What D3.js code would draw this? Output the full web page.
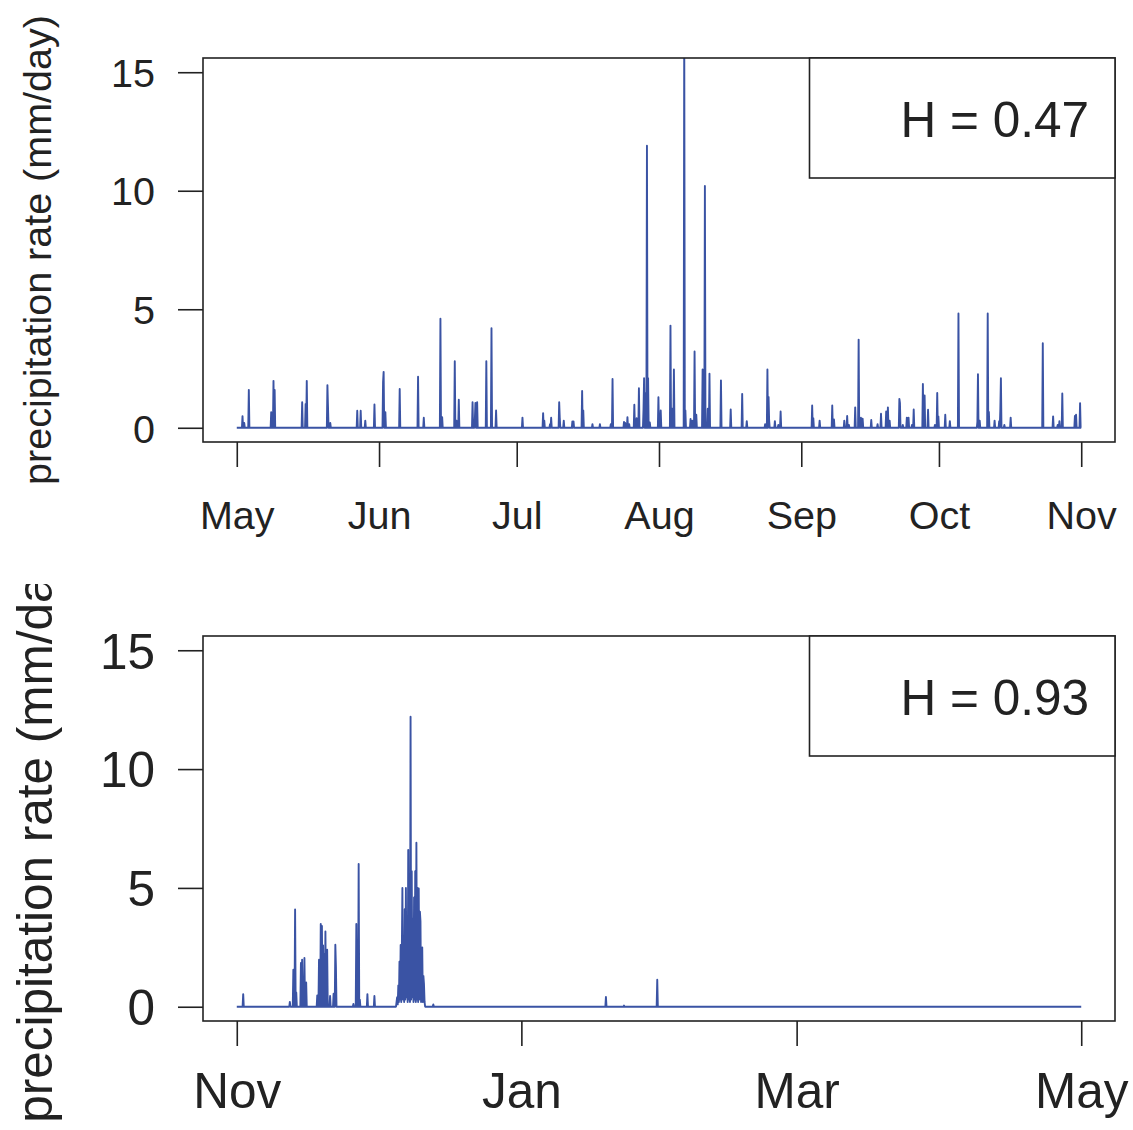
<!DOCTYPE html>
<html>
<head>
<meta charset="utf-8">
<script src="https://cdn.jsdelivr.net/npm/d3@7"></script>
<style>
  html, body { margin: 0; padding: 0; background: #fff; }
  svg { display: block; font-family: "Liberation Sans", Arial, Helvetica, sans-serif; }
</style>
</head>
<body>
<svg id="chart" width="1133" height="1130"></svg>
<script>
// Precipitation rate, 3-hourly steps; spikes given as [day offset, mm/day], all other steps are 0.

// Warm season: 1 May – 1 Nov (184 days)
const summerDays = 184;
const summerMonthDays = [0, 31, 61, 92, 123, 153, 184];
const summerMonthLabels = ["May", "Jun", "Jul", "Aug", "Sep", "Oct", "Nov"];
const summerH = "H = 0.47";
const summerSpikes = [
  [1.24, 0.49], [1.59, 0.2], [2.68, 1.6], [7.56, 0.66], [8.00, 1.98], [8.22, 1.6],
  [14.24, 1.08], [15.04, 1.0], [15.20, 1.98], [19.69, 1.8], [19.84, 0.9], [20.43, 0.2],
  [26.31, 0.72], [26.97, 0.72], [28.06, 0.3], [30.02, 0.98], [31.89, 1.93], [32.05, 2.36],
  [32.33, 0.66], [35.47, 1.64], [39.46, 2.15], [40.70, 0.42], [44.41, 4.6], [44.69, 0.45],
  [47.46, 2.81], [47.90, 0.3], [48.33, 1.18], [51.38, 1.08], [51.82, 0.35], [52.04, 1.05],
  [52.32, 1.08], [54.35, 2.81], [55.44, 4.2], [56.46, 0.73], [62.28, 0.43], [66.71, 0.62],
  [66.99, 0.3], [68.24, 0.15], [68.52, 0.42], [70.20, 1.08], [70.42, 0.42], [71.22, 0.3],
  [73.10, 0.27], [73.41, 0.27], [75.28, 1.55], [75.50, 0.73], [77.55, 0.15], [79.07, 0.15],
  [81.47, 0.15], [81.91, 2.06], [84.43, 0.25], [84.59, 0.2], [85.18, 0.45], [85.52, 0.15],
  [86.61, 0.97], [87.14, 0.4], [87.64, 1.67], [88.58, 0.77], [88.73, 2.09], [89.01, 1.45],
  [89.38, 11.9], [89.60, 2.09], [90.04, 0.22], [91.85, 1.29], [92.37, 0.73], [94.46, 4.31],
  [94.83, 0.8], [95.20, 2.46], [97.51, 17.0], [97.73, 0.73], [98.91, 0.37], [99.19, 0.3],
  [99.78, 3.22], [100.07, 0.55], [101.53, 2.46], [102.03, 10.2], [102.58, 0.8], [103.01, 2.28],
  [105.52, 2.0], [107.63, 0.77], [110.16, 1.43], [111.12, 0.28], [115.17, 0.15], [115.61, 2.46],
  [115.91, 1.3], [116.04, 0.3], [117.29, 0.28], [118.01, 0.12], [118.53, 0.69], [125.35, 0.94],
  [125.64, 0.4], [127.03, 0.3], [129.72, 0.94], [130.15, 0.35], [132.40, 0.3], [132.98, 0.5],
  [133.35, 0.12], [134.79, 0.86], [135.53, 3.72], [136.04, 0.42], [136.41, 0.38], [138.28, 0.33],
  [139.59, 0.15], [140.33, 0.59], [141.55, 0.69], [141.86, 0.86], [142.21, 0.3], [144.32, 1.22],
  [144.54, 1.05], [145.13, 0.12], [146.06, 0.43], [146.43, 0.43], [147.16, 0.12], [147.44, 0.77],
  [149.49, 1.85], [149.84, 1.36], [150.64, 0.76], [152.17, 0.12], [152.67, 1.47], [152.89, 0.48],
  [154.41, 0.55], [155.37, 0.28], [157.25, 4.82], [161.33, 0.25], [161.54, 2.26], [161.83, 0.3],
  [163.57, 4.82], [163.87, 0.67], [165.09, 0.3], [166.12, 0.28], [166.34, 0.77], [166.49, 2.09],
  [167.21, 0.12], [168.58, 0.43], [175.65, 3.57], [177.83, 0.48], [178.92, 0.12], [179.27, 0.28],
  [179.86, 1.45], [182.62, 0.5], [182.91, 0.55], [183.78, 1.04]
];

// Cold season: 1 Nov – 1 May (181 days)
const winterDays = 181;
const winterMonthDays = [0, 61, 120, 181];
const winterMonthLabels = ["Nov", "Jan", "Mar", "May"];
const winterH = "H = 0.93";
const winterSpikes = [
  [1.35, 0.53], [11.37, 0.2], [12.16, 1.56], [12.44, 4.09], [12.80, 0.6], [13.73, 1.84],
  [13.94, 1.98], [14.22, 1.2], [14.52, 2.05], [14.86, 1.02], [17.31, 0.48], [17.65, 1.98],
  [17.95, 3.48], [18.23, 3.4], [18.44, 2.58], [18.72, 2.2], [18.94, 3.17], [19.37, 2.4],
  [19.94, 0.45], [20.80, 0.55], [21.08, 2.61], [21.30, 1.7], [24.94, 0.12], [25.67, 3.48],
  [26.16, 6.01], [26.38, 0.3], [27.94, 0.53], [29.44, 0.45], [42.10, 0.1], [79.13, 0.41],
  [82.99, 0.05], [90.14, 1.14]
];
// Mid-December wet spell: consecutive 3-hourly values from day 34.25
const winterBurstStart = 34.25;
const winterBurst = [
  0.2, 0.4, 0.1, 0.9, 0.2, 1.9, 0.3, 2.6, 0.2, 2.2, 5.0, 0.3, 2.9, 0.2, 4.1, 0.3,
  5.0, 0.4, 3.1, 0.2, 6.6, 0.3, 3.6, 0.2, 12.2, 0.3, 5.7, 0.4, 3.7, 0.2, 4.6, 0.3,
  5.7, 0.2, 6.9, 0.3, 5.0, 0.2, 4.98, 0.3, 4.0, 3.6, 0.2, 0.6, 2.5, 0.2, 1.3, 0.95, 0.2
];

const yTickValues = [0, 5, 10, 15];
const yTitle = "precipitation rate (mm/day)";

const STEPS_PER_DAY = 8;
const LINE_COLOR = "#3a53a4";
const INK = "#222";

// Build a 3-hourly series with zeros everywhere except the listed values
function buildSeries(nDays, spikes, burstStart, burst) {
  const n = nDays * STEPS_PER_DAY;
  const vals = new Array(n + 1).fill(0);
  spikes.forEach(([d, v]) => {
    const i = Math.max(0, Math.min(n, Math.round(d * STEPS_PER_DAY)));
    vals[i] = Math.max(vals[i], v);
  });
  if (burst) {
    const i0 = Math.round(burstStart * STEPS_PER_DAY);
    burst.forEach((v, k) => { vals[i0 + k] = Math.max(vals[i0 + k], v); });
  }
  return vals.map((v, i) => ({ day: i / STEPS_PER_DAY, value: v }));
}

const svg = d3.select("#chart");
const defs = svg.append("defs");

function drawPanel(cfg) {
  const { id, left, right, top, bottom, nDays, series, tickDays, tickLabels, hLabel, fs, titleClipTop } = cfg;

  // R-style 4% padding around the data ranges
  const xPad = nDays * 0.04;
  const x = d3.scaleLinear().domain([-xPad, nDays + xPad]).range([left, right]);
  const y = d3.scaleLinear().domain([-0.6, 15.6]).range([bottom, top]);

  const g = svg.append("g");

  // clip for the series to the plotting region
  defs.append("clipPath").attr("id", "clip-" + id)
    .append("rect").attr("x", left).attr("y", top)
    .attr("width", right - left).attr("height", bottom - top);

  const line = d3.line().x(d => x(d.day)).y(d => y(d.value));
  g.append("path")
    .datum(series)
    .attr("clip-path", `url(#clip-${id})`)
    .attr("fill", "none")
    .attr("stroke", LINE_COLOR)
    .attr("stroke-width", 1.9)
    .attr("stroke-linejoin", "round")
    .attr("d", line);

  // Y axis
  const yAxis = d3.axisLeft(y).tickValues(yTickValues).tickSize(25).tickSizeOuter(0).tickPadding(0);
  const ya = g.append("g").attr("transform", `translate(${left},0)`).call(yAxis);
  ya.select(".domain").remove();
  ya.selectAll("line").attr("stroke", INK).attr("stroke-width", 1.6);
  ya.selectAll("text")
    .attr("x", -(left - 155))
    .attr("dy", "0.36em")
    .attr("fill", INK)
    .style("font-size", fs + "px")
    .style("font-family", '"Liberation Sans", Arial, sans-serif');

  // X axis
  const xAxis = d3.axisBottom(x).tickValues(tickDays)
    .tickFormat((d, i) => tickLabels[i]).tickSize(25).tickSizeOuter(0);
  const xa = g.append("g").attr("transform", `translate(0,${bottom})`).call(xAxis);
  xa.select(".domain").remove();
  xa.selectAll("line").attr("stroke", INK).attr("stroke-width", 1.6);
  xa.selectAll("text")
    .attr("y", cfg.xLabelBaseline - bottom)
    .attr("dy", 0)
    .attr("fill", INK)
    .style("font-size", fs + "px")
    .style("font-family", '"Liberation Sans", Arial, sans-serif');

  // plot box
  g.append("rect")
    .attr("x", left).attr("y", top)
    .attr("width", right - left).attr("height", bottom - top)
    .attr("fill", "none").attr("stroke", INK).attr("stroke-width", 1.6);

  // legend box with H value
  const lx = 809.5, ly = top, lh = 120;
  g.append("rect")
    .attr("x", lx).attr("y", ly)
    .attr("width", right - lx).attr("height", lh)
    .attr("fill", "#fff").attr("stroke", INK).attr("stroke-width", 1.6);
  g.append("text")
    .attr("x", 1089).attr("y", ly + 79)
    .attr("text-anchor", "end")
    .attr("fill", INK)
    .style("font-size", "49.5px")
    .text(hLabel);

  // y-axis title (clipped to the panel's figure region)
  defs.append("clipPath").attr("id", "tclip-" + id)
    .append("rect").attr("x", 0).attr("y", titleClipTop)
    .attr("width", 200).attr("height", cfg.titleClipBottom - titleClipTop);
  const cy = (top + bottom) / 2;
  g.append("g").attr("clip-path", `url(#tclip-${id})`)
    .append("text")
    .attr("transform", `translate(${cfg.titleX},${cy}) rotate(-90)`)
    .attr("text-anchor", "middle")
    .attr("fill", INK)
    .style("font-size", fs + "px")
    .text(yTitle);
}

drawPanel({
  id: "summer", left: 203, right: 1115, top: 58, bottom: 442,
  nDays: summerDays,
  series: buildSeries(summerDays, summerSpikes),
  tickDays: summerMonthDays, tickLabels: summerMonthLabels,
  hLabel: summerH, fs: 39.5, xLabelBaseline: 529,
  titleX: 51, titleClipTop: 0, titleClipBottom: 565
});

drawPanel({
  id: "winter", left: 203, right: 1115, top: 636, bottom: 1021,
  nDays: winterDays,
  series: buildSeries(winterDays, winterSpikes, winterBurstStart, winterBurst),
  tickDays: winterMonthDays, tickLabels: winterMonthLabels,
  hLabel: winterH, fs: 49.5, xLabelBaseline: 1108,
  titleX: 52, titleClipTop: 584, titleClipBottom: 1130
});
</script>
</body>
</html>
